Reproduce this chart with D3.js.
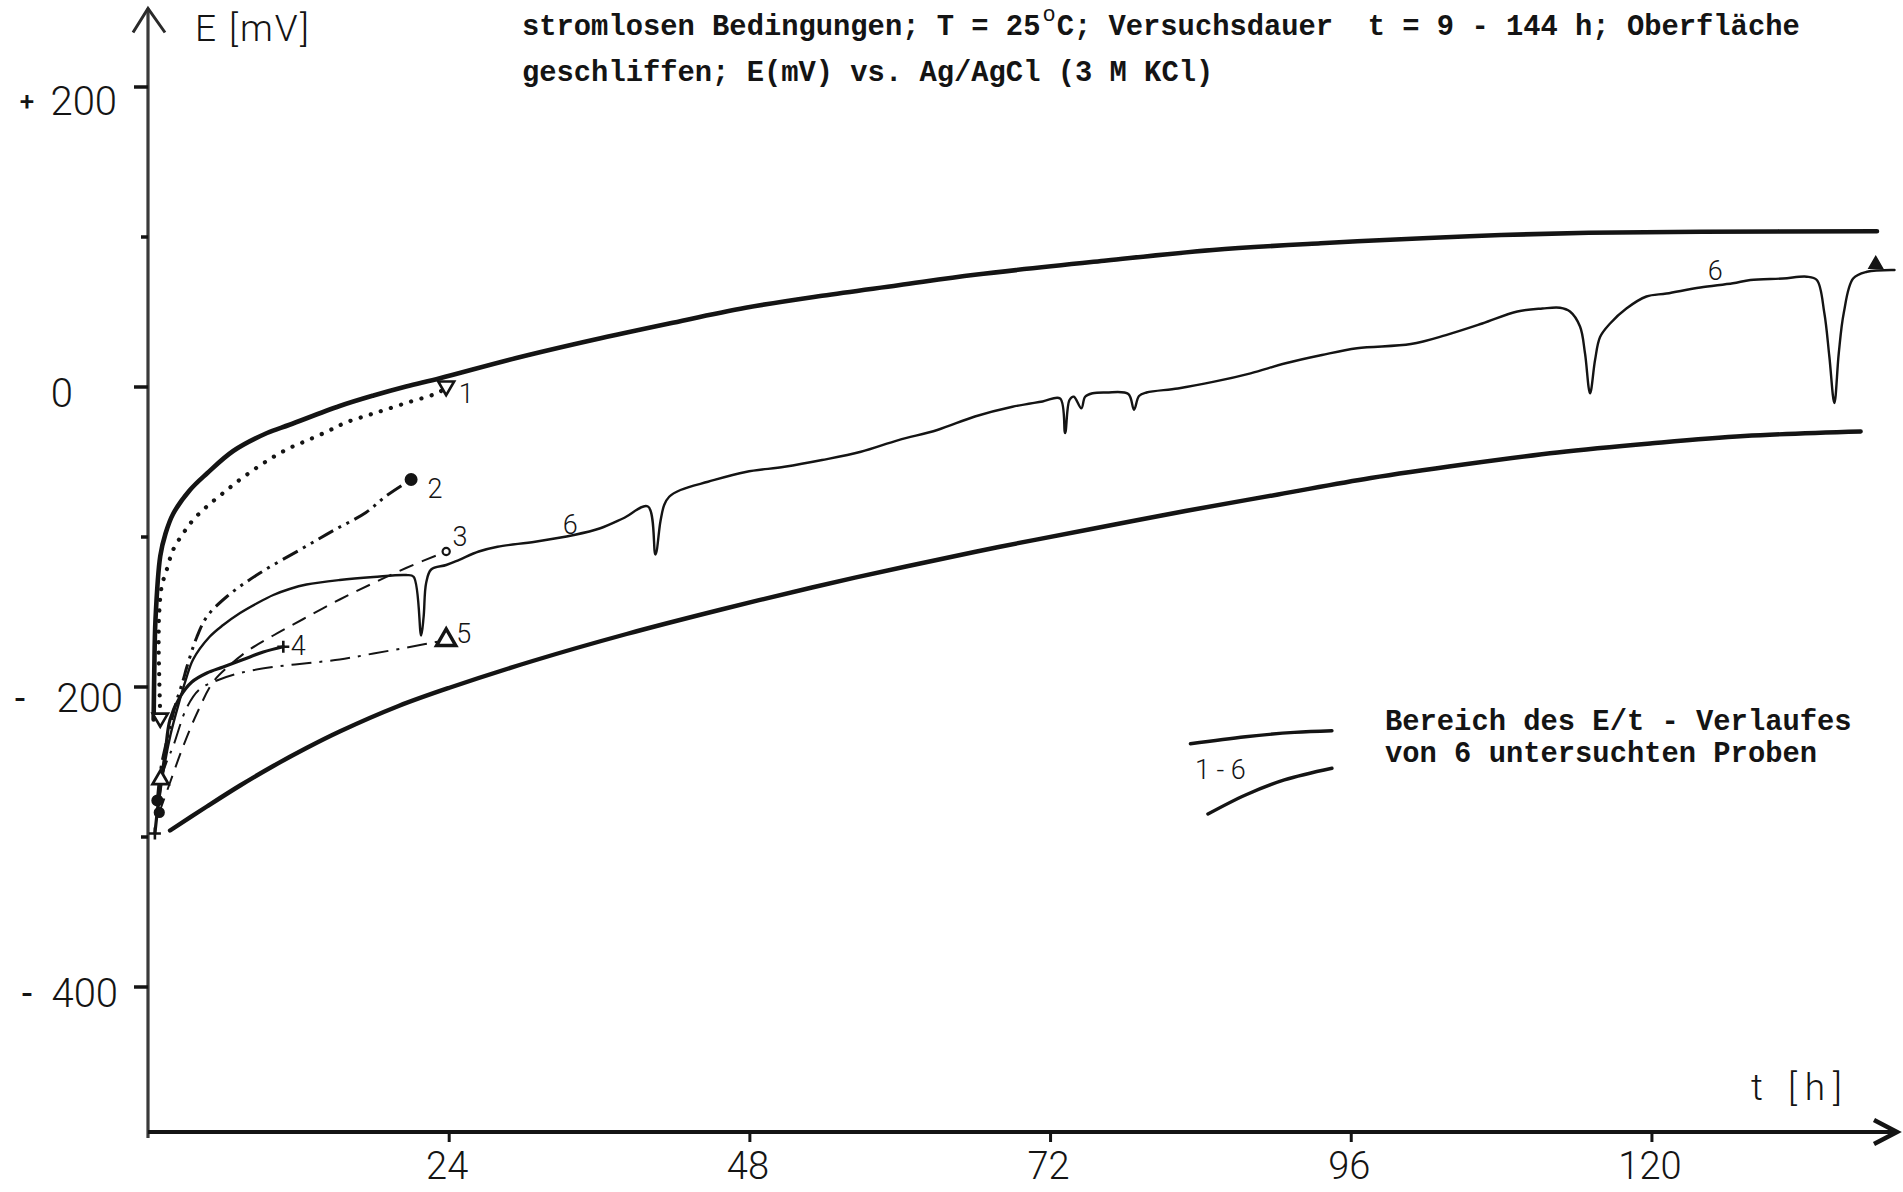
<!DOCTYPE html>
<html>
<head>
<meta charset="utf-8">
<script src="https://cdn.jsdelivr.net/npm/d3@7"></script>
<style>
  html, body { margin: 0; padding: 0; background: #fff; }
  svg { display: block; }
</style>
</head>
<body>
<svg id="chart" width="1903" height="1192"></svg>
<script>
// ---- axis ticks and labels ----
const xTickValues = [24, 48, 72, 96, 120];
const yMajorTicks = [200, 0, -200, -400];
const yMinorTicks = [100, -100, -300];
const yLabelSigns = ["+", "", "-", "-"];
const yLabelNumbers = ["200", "0", "200", "400"];
const yAxisTitle = "E [mV]";
const xAxisTitle = "t [h]";

// ---- header and legend text ----
const headerLine1 = ["stromlosen Bedingungen; T = 25", "o", "C; Versuchsdauer\u00A0\u00A0t = 9 - 144 h; Oberfläche"];
const headerLine2 = "geschliffen; E(mV) vs. Ag/AgCl (3 M KCl)";
const legendText = ["Bereich des E/t - Verlaufes", "von 6 untersuchten Proben"];
const legendRangeLabel = "1 - 6";

// ---- series: [t in h, E in mV] ----
const envelopeUpper = [[0.45,-222],[0.5,-190],[0.6,-155],[0.98,-113],[1.4,-98],[2.0,-85],[3.35,-69],[4.7,-58],
  [6.8,-43],[9.5,-31],[11.3,-25.5],[15.3,-13],[18,-6],[20.6,0],[23.3,5.5],[29.4,19],[35.5,31],[41.6,42],
  [47.7,52.5],[53.8,60.5],[59.9,67.5],[66,74.5],[76.5,84],[85,91],[93.6,95.5],[102.2,99],[108,101],[115,102.5],
  [124,103.2],[138,103.5]];

const envelopeLower = [[1.76,-296],[4.7,-280],[7.35,-266],[10,-253],[12.65,-241],[15.3,-230],[20,-213],[24,-201],
  [30.7,-183],[38.2,-165],[45.6,-149],[53,-134],[60.5,-120],[67.9,-107],[75.3,-95],[82.8,-83],[90.2,-72],
  [97.6,-61],[105,-52],[112.5,-44],[119.9,-38],[127.4,-33],[136.7,-30]];

const probe1 = [[0.98,-220],[0.9,-195],[0.85,-170],[0.9,-150],[1.1,-133],[1.5,-122],[2.0,-109],[2.8,-98],[3.6,-89],
  [4.7,-80],[6,-71],[7.35,-62],[8.7,-54],[10,-47],[11.3,-41],[12.7,-36],[14.3,-30],[15.8,-24],[18,-18],
  [20.6,-11],[23.3,-3.5],[23.8,0.3]];

const probe2 = [[0.75,-276],[1.0,-256],[1.5,-236],[2.2,-212],[2.8,-196],[3.1,-187],[3.9,-167],[4.7,-153.5],
  [6.3,-140],[8.9,-124.5],[12.1,-109],[14.8,-96],[17.4,-84],[19,-73],[21,-62]];

const probe3 = [[0.9,-284],[1.76,-264],[2.8,-240],[3.9,-218],[5.2,-197],[6.5,-186],[8,-176],[10,-166],
  [12.4,-155],[15.3,-142],[18,-131],[20.6,-121],[23.8,-110]];

const probe4 = [[0.55,-298],[0.9,-272],[1.36,-245],[1.76,-222],[2.55,-207],[3.5,-197],[4.7,-191],[6,-187],
  [7.6,-182],[9.2,-177],[10.8,-173.5]];

const probe5 = [[1.0,-262],[1.5,-250],[2.0,-240],[3.1,-214],[4.1,-202],[5.5,-196],[7.35,-191],[10,-187],
  [12.65,-184.5],[15.3,-182],[18,-178],[21,-173.5],[23.8,-169]];

const probe6 = [[0.8,-282],[1.2,-258],[1.8,-232],[2.5,-210],[3.0,-196],[3.6,-182],[4.9,-167],[6.0,-159],
  [7.35,-151],[8.7,-144.5],[10,-139],[11.3,-135],[12.65,-132],[15.3,-129],[18,-127],[20.6,-125.7],
  [21.2,-126.8],[21.8,-166],[22.0,-153.5],[22.2,-131],[22.6,-122],[23.8,-119],[24.8,-115.7],[26.4,-110],
  [27.9,-106.8],[30.9,-103.5],[34,-99],[36.1,-94.5],[37.9,-88],[39.9,-80],[40.5,-112],[40.9,-90],[41.2,-79],
  [41.6,-73.5],[42.5,-69],[44.7,-63.5],[47.7,-57],[50.8,-53.5],[53.8,-49],[56.9,-43.5],[59.9,-35.7],[63,-29],
  [66,-20],[69,-13.5],[71.4,-10],[72.8,-8],[73.2,-31],[73.55,-9],[73.9,-6.8],[74.5,-14.5],[74.8,-6.8],
  [75.4,-4.5],[76.5,-4],[78.25,-5],[78.7,-15.5],[79.1,-6.3],[79.7,-4],[82.2,-1.3],[85.1,3.2],[88,8.8],
  [90.8,15.5],[93.7,21],[96.5,25.5],[100.8,28.3],[103.6,34.3],[106.5,42],[109.3,50],[111.3,52],[112.7,52.5],
  [113.5,50],[114.3,40],[114.7,22],[115.1,-4.5],[115.5,17.7],[115.9,33],[116.7,42],[118,52],[119.6,60],
  [121.2,62],[123.9,66],[126.5,68.8],[127.9,71],[130.5,72],[132.4,73.2],[133.2,71],[133.8,49],[134.2,20],
  [134.6,-11],[134.95,22],[135.35,49],[136.1,72],[137.2,76.5],[139.4,77.7]];

// marker positions: [t, E]
const startMarks = {tri_down: [0.98,-221], tri_up: [1.0,-262], dot: [0.75,-276], ring: [0.9,-284], cross: [0.55,-298]};
const endMarks = {tri_down: [23.8,0.3], dot: [21,-62], ring: [23.8,-110], cross: [10.8,-173.5], tri_up: [23.8,-169], tri_fill: [137.9,81.5]};

// series labels: [text, t, E]
const seriesLabels = [["1",24.8,-11],["2",22.3,-74],["3",24.3,-106],["4",11.4,-179],["5",24.6,-171],["6",33.1,-98],["6",124.5,71]];

// legend sample strokes in plot units
const legendUpper = [[83.2,-238.2],[87.6,-233.5],[91.5,-230.6],[94.5,-229.5]];
const legendLower = [[84.6,-285],[87.6,-272.3],[90.7,-262.3],[94.5,-254.5]];

// ---- scales ----
const svg = d3.select("#chart");
const x = d3.scaleLinear().domain([0, 139.6]).range([148, 1897]);
const y = d3.scaleLinear().domain([-497, 252]).range([1132, 8.5]);

const ink = "#141414";
const stencil = "Roboto, 'Noto Sans', sans-serif";
const mono = "'Liberation Mono', 'DejaVu Sans Mono', monospace";

// ---- axes ----
const axes = svg.append("g");
// vertical axis with open arrow
axes.append("line").attr("x1", x(0)).attr("x2", x(0)).attr("y1", y(252)).attr("y2", y(-497) + 6)
  .attr("stroke", "#3a3a3a").attr("stroke-width", 3.2);
axes.append("path")
  .attr("d", `M${x(0) - 15},${y(252) + 24} L${x(0)},${y(252)} L${x(0) + 17},${y(252) + 24}`)
  .attr("fill", "none").attr("stroke", "#2a2a2a").attr("stroke-width", 3).attr("stroke-linejoin", "miter");
// horizontal axis with arrow
axes.append("line").attr("x1", x(0)).attr("x2", x(139.6) - 2).attr("y1", y(-497)).attr("y2", y(-497))
  .attr("stroke", ink).attr("stroke-width", 4.2);
axes.append("path")
  .attr("d", `M${x(139.6) - 23},${y(-497) - 12} L${x(139.6)},${y(-497)} L${x(139.6) - 23},${y(-497) + 12}`)
  .attr("fill", "none").attr("stroke", ink).attr("stroke-width", 4.5).attr("stroke-linejoin", "miter");

// y ticks (drawn to the left of the axis)
const yMajor = axes.append("g").attr("transform", `translate(${x(0)},0)`)
  .call(d3.axisLeft(y).tickValues(yMajorTicks).tickSize(14).tickFormat(""));
const yMinor = axes.append("g").attr("transform", `translate(${x(0)},0)`)
  .call(d3.axisLeft(y).tickValues(yMinorTicks).tickSize(7).tickFormat(""));
[yMajor, yMinor].forEach(g => {
  g.select(".domain").remove();
  g.selectAll(".tick line").attr("stroke", ink).attr("stroke-width", 3.5);
});

// x ticks (drawn below the axis)
const xAx = axes.append("g").attr("transform", `translate(0,${y(-497)})`)
  .call(d3.axisBottom(x).tickValues(xTickValues).tickSize(10).tickPadding(10));
xAx.select(".domain").remove();
xAx.selectAll(".tick line").attr("stroke", ink).attr("stroke-width", 3);
xAx.selectAll(".tick text").attr("font-family", stencil).attr("font-weight", 300)
  .attr("font-size", 38).attr("fill", ink).attr("dy", "0.71em").attr("dx", -2);

// y tick labels: sign and number placed separately, as lettered on the sheet
const yLabelLayout = [
  {signX: 27, numEnd: 117, dy: 14},
  {signX: null, numEnd: 73, dy: 6},
  {signX: 20, numEnd: 123, dy: 11},
  {signX: 27, numEnd: 118, dy: 6}
];
yMajorTicks.forEach((v, i) => {
  const L = yLabelLayout[i];
  const cy = y(v) + L.dy;
  axes.append("text").attr("x", L.numEnd).attr("y", cy).attr("dy", "0.36em")
    .attr("text-anchor", "end").attr("font-family", stencil).attr("font-weight", 300)
    .attr("font-size", 40).attr("fill", ink).text(yLabelNumbers[i]);
  if (yLabelSigns[i]) {
    axes.append("text").attr("x", L.signX).attr("y", cy).attr("dy", "0.36em")
      .attr("text-anchor", "middle").attr("font-family", stencil).attr("font-weight", 500)
      .attr("font-size", yLabelSigns[i] === "+" ? 26 : 34).attr("fill", ink).text(yLabelSigns[i]);
  }
});

// axis titles
axes.append("text").attr("x", 195).attr("y", 41).attr("font-family", stencil).attr("font-weight", 300)
  .attr("font-size", 37).attr("letter-spacing", 2).attr("fill", ink).text(yAxisTitle);
axes.append("text").attr("x", 1751).attr("y", 1100).attr("font-family", stencil).attr("font-weight", 300)
  .attr("font-size", 37).attr("letter-spacing", 8).attr("fill", ink).text(xAxisTitle);

// ---- header text ----
const header = svg.append("g").attr("font-family", mono).attr("font-weight", 700)
  .attr("font-size", 28.8).attr("fill", ink);
const h1 = header.append("text").attr("x", 522).attr("y", 35);
h1.append("tspan").text(headerLine1[0]);
h1.append("tspan").attr("font-size", 22).attr("dx", 2).attr("dy", -14).attr("font-weight", 400).text(headerLine1[1]);
h1.append("tspan").attr("dx", 1).attr("dy", 14).text(headerLine1[2]);
header.append("text").attr("x", 522).attr("y", 81).text(headerLine2);

// ---- curves ----
const line = d3.line().x(d => x(d[0])).y(d => y(d[1])).curve(d3.curveCatmullRom.alpha(0.5));
const plot = svg.append("g").attr("fill", "none").attr("stroke", ink).attr("stroke-linecap", "round")
  .attr("stroke-linejoin", "round");

plot.append("path").datum(envelopeUpper).attr("d", line).attr("stroke-width", 4.6);
plot.append("path").datum(envelopeLower).attr("d", line).attr("stroke-width", 4.4);
plot.append("path").datum(probe6).attr("d", line).attr("stroke-width", 2.4);
plot.append("path").datum(probe4).attr("d", line).attr("stroke-width", 3.2);
plot.append("path").datum(probe3).attr("d", line).attr("stroke-width", 2).attr("stroke-linecap", "butt")
  .attr("stroke-dasharray", "15 9");
plot.append("path").datum(probe5).attr("d", line).attr("stroke-width", 2).attr("stroke-linecap", "butt")
  .attr("stroke-dasharray", "20 8 3 8");
plot.append("path").datum(probe2).attr("d", line).attr("stroke-width", 3).attr("stroke-linecap", "butt")
  .attr("stroke-dasharray", "17 6 3 6 3 6");
plot.append("path").datum(probe1).attr("d", line).attr("stroke-width", 4.2)
  .attr("stroke-dasharray", "0.1 10.5");

// ---- markers ----
const marks = svg.append("g").attr("stroke", ink);
function triangle(pt, down, filled, size, sw) {
  marks.append("path").attr("d", d3.symbol(d3.symbolTriangle, size)())
    .attr("transform", `translate(${x(pt[0])},${y(pt[1])}) rotate(${down ? 180 : 0})`)
    .attr("fill", filled ? ink : "#fff").attr("stroke-width", sw);
}
function circle(pt, r, filled) {
  marks.append("circle").attr("cx", x(pt[0])).attr("cy", y(pt[1])).attr("r", r)
    .attr("fill", filled ? ink : "#fff").attr("stroke-width", 2.2);
}
function cross(pt, h) {
  const cx = x(pt[0]), cy = y(pt[1]);
  marks.append("path").attr("d", `M${cx - h},${cy} L${cx + h},${cy} M${cx},${cy - h} L${cx},${cy + h}`)
    .attr("fill", "none").attr("stroke-width", 2.6);
}
triangle(startMarks.tri_down, true, false, 100, 2.6);
triangle(startMarks.tri_up, false, false, 110, 2.8);
circle(startMarks.dot, 5, true);
circle(startMarks.ring, 4.5, true);
cross(startMarks.cross, 6);
triangle(endMarks.tri_down, true, false, 110, 2.6);
circle(endMarks.dot, 5.4, true);
circle(endMarks.ring, 3.6, false);
cross(endMarks.cross, 6);
triangle(endMarks.tri_up, false, false, 160, 3.4);
triangle(endMarks.tri_fill, false, true, 80, 1.5);

// ---- series labels ----
svg.append("g").attr("font-family", stencil).attr("font-weight", 300).attr("font-size", 27).attr("fill", ink)
  .selectAll("text").data(seriesLabels).join("text")
  .attr("x", d => x(d[1])).attr("y", d => y(d[2])).text(d => d[0]);

// ---- legend ----
const legend = svg.append("g");
const legendLine = d3.line().x(d => x(d[0])).y(d => y(d[1])).curve(d3.curveCatmullRom.alpha(0.5));
legend.append("path").datum(legendUpper).attr("d", legendLine).attr("fill", "none").attr("stroke", ink)
  .attr("stroke-width", 3.4).attr("stroke-linecap", "round");
legend.append("path").datum(legendLower).attr("d", legendLine).attr("fill", "none").attr("stroke", ink)
  .attr("stroke-width", 3.4).attr("stroke-linecap", "round");
legend.append("text").attr("x", 1195).attr("y", 779).attr("font-family", stencil).attr("font-weight", 300)
  .attr("font-size", 27).attr("fill", ink).text(legendRangeLabel);
legend.append("g").attr("font-family", mono).attr("font-weight", 700).attr("font-size", 28.8).attr("fill", ink)
  .selectAll("text").data(legendText).join("text")
  .attr("x", 1385).attr("y", (d, i) => 730 + i * 32).text(d => d);
</script>
</body>
</html>
